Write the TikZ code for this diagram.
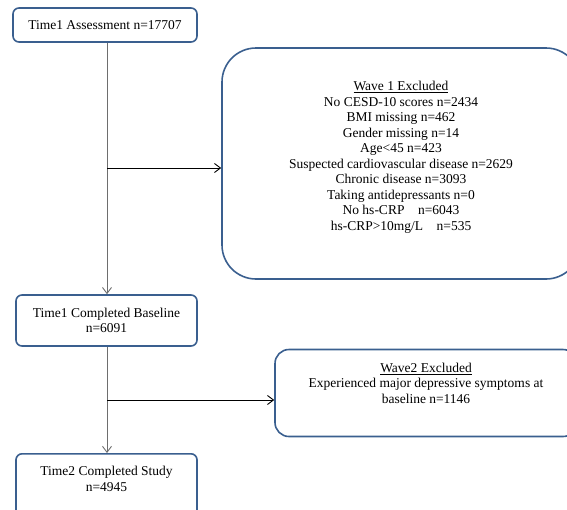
\documentclass[tikz,border=0pt]{standalone}
\usepackage{fontspec}
\setmainfont{Liberation Serif}
\usetikzlibrary{arrows.meta}

\definecolor{boxblue}{RGB}{58,95,143}
\definecolor{linegrey}{RGB}{110,110,110}

\begin{document}
\begin{tikzpicture}[x=1pt,y=-1pt,>={Straight Barb[length=6pt,width=9pt]},
   font=\fontsize{13.5}{15.5}\selectfont,
   box/.style={draw=boxblue,line width=1.6pt,rounded corners=6pt,align=center,inner sep=0pt},
   flow/.style={->,draw=linegrey,line width=0.9pt},
   branch/.style={->,draw=black,line width=0.9pt}]
   \useasboundingbox (0,0) rectangle (567,509);
   \clip (0,0) rectangle (567,509);

   \node[box,minimum width=184pt,minimum height=34pt] (T1) at (105,25) {Time1 Assessment n=17707};
   \node[box,rounded corners=34pt,minimum width=358pt,minimum height=231pt] (W1) at (401,163.5)
      {\underline{Wave 1 Excluded}\\No CESD-10 scores n=2434\\BMI missing n=462\\Gender missing n=14\\
       Age<45 n=423\\Suspected cardiovascular disease n=2629\\Chronic disease n=3093\\
       Taking antidepressants n=0\\No hs-CRP\quad n=6043\\hs-CRP>10mg/L\quad n=535\\[0pt]};
   \node[box,minimum width=181pt,minimum height=51pt] (B) at (106.5,320.5) {Time1 Completed Baseline\\n=6091};
   \node[box,rounded corners=14pt,minimum width=302pt,minimum height=87pt] (W2) at (426,393)
      {\underline{Wave2 Excluded}\\Experienced major depressive symptoms at\\baseline n=1146\\[4pt]};
   \node[box,minimum width=181pt,minimum height=67pt,anchor=north] (T2) at (106.5,453)
      {Time2 Completed Study\\n=4945\\[1pt]};

   \coordinate (j1) at (107,168);
   \coordinate (j2) at (107,400);

   \draw[flow] (T1.south -| j1) -- (B.north -| j1);
   \draw[branch] (j1) -- (j1 -| W1.west);
   \draw[flow] (B.south -| j2) -- (T2.north -| j2);
   \draw[branch] (j2) -- (j2 -| W2.west);
\end{tikzpicture}
\end{document}
